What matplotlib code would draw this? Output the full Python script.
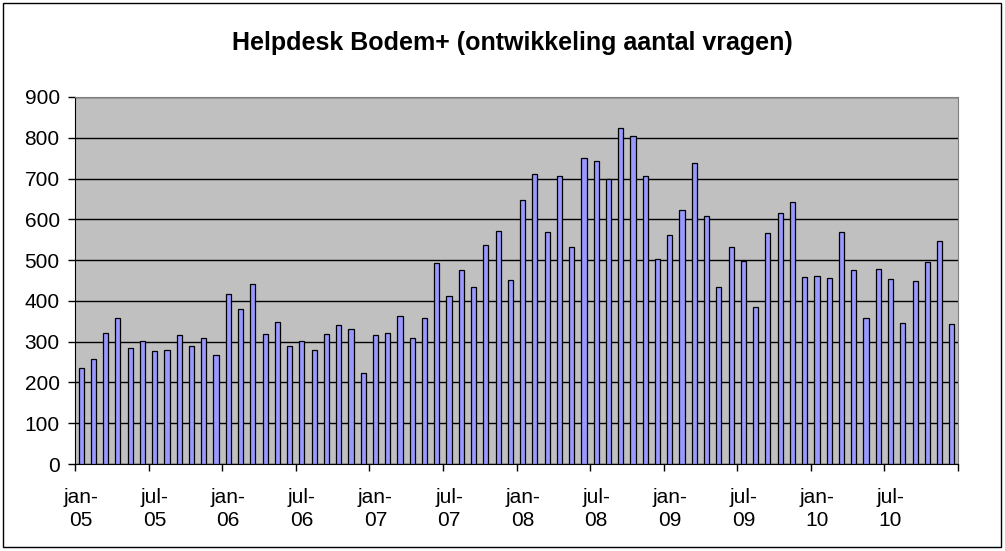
import numpy as np
import matplotlib.pyplot as plt
from matplotlib.patches import Rectangle

plt.rcParams['font.family'] = ['Liberation Sans', 'DejaVu Sans']

# maandelijkse aantallen vragen, jan-05 t/m dec-10
v2005 = [236, 258, 321, 359, 284, 302, 276, 280, 317, 290, 309, 268]
v2006 = [416, 380, 442, 319, 348, 290, 302, 280, 320, 341, 330, 224]
v2007 = [317, 321, 363, 309, 357, 494, 413, 475, 433, 536, 572, 452]
v2008 = [647, 710, 569, 707, 532, 751, 743, 698, 824, 805, 707, 502]
v2009 = [562, 622, 739, 608, 433, 532, 497, 385, 566, 615, 642, 459]
v2010 = [462, 455, 569, 475, 357, 478, 453, 347, 448, 495, 548, 344]
waarden = v2005 + v2006 + v2007 + v2008 + v2009 + v2010

labels = ['jan-\n05', 'jul-\n05', 'jan-\n06', 'jul-\n06', 'jan-\n07', 'jul-\n07',
          'jan-\n08', 'jul-\n08', 'jan-\n09', 'jul-\n09', 'jan-\n10', 'jul-\n10']

fig = plt.figure(figsize=(10.05, 5.51), dpi=100)
fig.patches.append(Rectangle((3 / 1005, 4 / 551), 998 / 1005, 544 / 551,
                             transform=fig.transFigure, fill=False,
                             edgecolor='black', linewidth=1))

ax = fig.add_axes([75 / 1005, 1 - 464 / 551, 883 / 1005, 367 / 551])
ax.set_facecolor('#C0C0C0')

x = np.arange(len(waarden))
ax.bar(x, waarden, width=0.42, color='#9999FF', edgecolor='black',
       linewidth=0.9, zorder=3)

ax.set_xlim(-0.5, len(waarden) - 0.5)
ax.set_ylim(0, 900)
ax.set_yticks(np.arange(0, 901, 100))
ax.yaxis.grid(True, color='black', linewidth=1, zorder=1)
ax.set_axisbelow(True)

# labels bij eerste maand, streepjes tussen de categorieen
ax.set_xticks(np.arange(0, len(waarden), 6))
ax.set_xticklabels(labels)
ax.tick_params(axis='x', which='major', length=0, pad=17, labelsize=15)
ax.set_xticks(np.arange(-0.5, len(waarden), 6), minor=True)
ax.tick_params(axis='x', which='minor', length=5, width=1, direction='out')
ax.tick_params(axis='y', length=5, width=1, direction='out', labelsize=15, pad=6)
for lab in ax.get_xticklabels():
    lab.set_linespacing(1.28)

for s in ['top', 'right']:
    ax.spines[s].set_color('#808080')
for s in ['left', 'bottom']:
    ax.spines[s].set_color('black')

fig.text(512 / 1005, 1 - 43 / 551, 'Helpdesk Bodem+ (ontwikkeling aantal vragen)',
         ha='center', va='center', fontsize=18, fontweight='bold')

fig.savefig('out.png', dpi=100)
